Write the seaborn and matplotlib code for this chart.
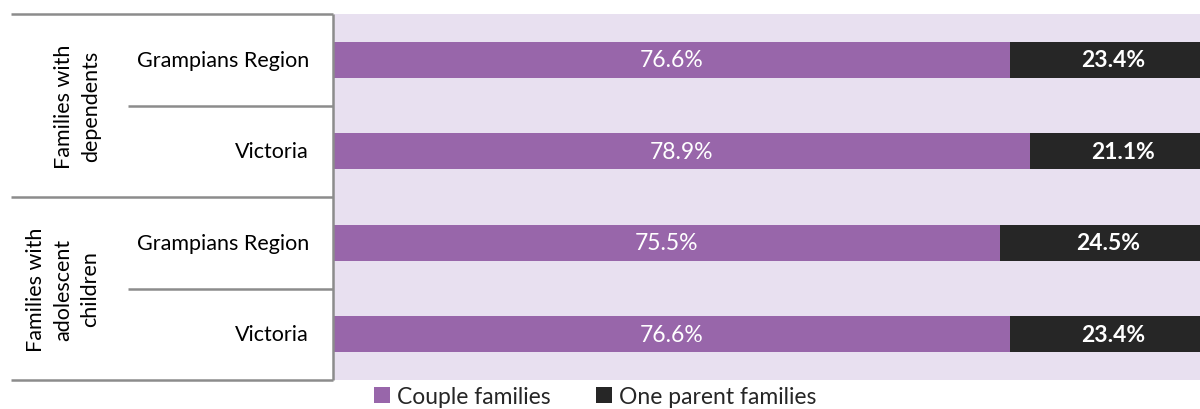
import matplotlib
matplotlib.use("Agg")
import matplotlib.pyplot as plt
import matplotlib.transforms as mtransforms
from matplotlib.patches import Patch
import pandas as pd
import seaborn as sns

# Family composition by region
groups = ["Families with\ndependents", "Families with\nadolescent\nchildren"]
rows = ["Grampians Region", "Victoria", "Grampians Region", "Victoria"]
row_ids = ["g1_grampians", "g1_victoria", "g2_grampians", "g2_victoria"]
couple = [76.6, 78.9, 75.5, 76.6]
one_parent = [23.4, 21.1, 24.5, 23.4]
series_names = ["Couple families", "One parent families"]

PURPLE = "#9866AA"
DARK = "#262626"
BG = "#E8E0F0"
LINE = "#8C8C8C"

sns.set_theme(style="white")
plt.rcParams["font.family"] = ["Lato", "DejaVu Sans"]

df = pd.DataFrame({"row": row_ids, "couple": couple, "one": one_parent})
df["total"] = df["couple"] + df["one"]

W, H = 1200, 410
fig = plt.figure(figsize=(W / 100, H / 100), dpi=100)
x0, x1 = 334, 1216
y_top, y_bot = 15, 381
ax = fig.add_axes([x0 / W, (H - y_bot) / H, (x1 - x0) / W, (y_bot - y_top) / H])
ax.set_facecolor(BG)

# Stacked bars: full length (dark) underneath, couple share (purple) on top
sns.barplot(data=df, y="row", x="total", orient="h", color=DARK, width=0.39,
            saturation=1, ax=ax, linewidth=0)
sns.barplot(data=df, y="row", x="couple", orient="h", color=PURPLE, width=0.39,
            saturation=1, ax=ax, linewidth=0)

ax.set_xlim(0, 100)
ax.set_ylim(3.5, -0.5)
ax.set_xlabel("")
ax.set_ylabel("")
ax.set_xticks([])
ax.set_yticks([])
for s in ax.spines.values():
    s.set_visible(False)

fs = 15.5
fs_val = 16.5
for i, (c, o) in enumerate(zip(df["couple"], df["one"])):
    ax.text(c / 2, i, f"{c:.1f}%", ha="center", va="center", color="white", fontsize=fs_val)
    ax.text(c + o / 2, i, f"{o:.1f}%", ha="center", va="center", color="white",
            fontsize=fs_val, fontweight="bold")

# Category table on the left
trans = mtransforms.blended_transform_factory(ax.transAxes, ax.transData)
def ax_x(px):
    return (px - x0) / (x1 - x0)

lw = 1.8
for y, left in [(-0.5, 11), (1.5, 11), (3.5, 11), (0.5, 128), (2.5, 128)]:
    ax.plot([ax_x(left), ax_x(333)], [y, y], color=LINE, lw=lw, transform=trans,
            clip_on=False, solid_capstyle="butt")
ax.plot([ax_x(333), ax_x(333)], [-0.5, 3.5], color=LINE, lw=lw, transform=trans,
        clip_on=False, solid_capstyle="butt")

for i, label in enumerate(rows):
    ax.text(ax_x(309), i, label, ha="right", va="center", fontsize=fs,
            color="black", transform=trans)

ax.text(ax_x(78), 0.5, groups[0], rotation=90, ha="center", va="center",
        fontsize=fs, color="black", transform=trans, linespacing=1.45,
        multialignment="center")
ax.text(ax_x(63), 2.5, groups[1], rotation=90, ha="center", va="center",
        fontsize=fs, color="black", transform=trans, linespacing=1.45,
        multialignment="center")

handles = [Patch(facecolor=PURPLE, edgecolor="none"), Patch(facecolor=DARK, edgecolor="none")]
fig.legend(handles, series_names, loc="upper center", bbox_to_anchor=(595 / W, (H - 387) / H),
           ncol=2, frameon=False, fontsize=16.5, handlelength=0.7, handleheight=0.7,
           handletextpad=0.3, columnspacing=2.0, borderpad=0, borderaxespad=0)

fig.savefig("out.png", dpi=100)
